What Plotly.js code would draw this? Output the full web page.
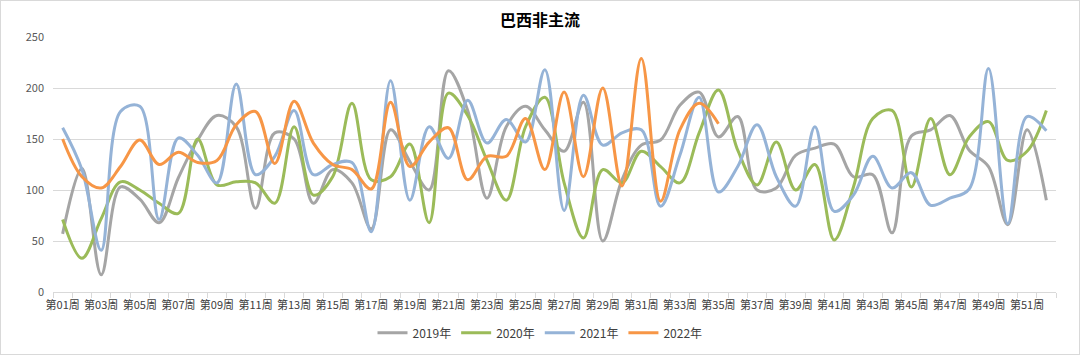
<!DOCTYPE html>
<html>
<head>
<meta charset="utf-8">
<script src="https://cdn.plot.ly/plotly-3.0.1.min.js"></script>
<style>
html,body{margin:0;padding:0;background:#fff;}
#wrap{width:1080px;height:355px;box-sizing:border-box;border:1px solid #d9d9d9;}
#chart{width:1078px;height:353px;}
</style>
</head>
<body>
<div id="wrap"><div id="chart"></div></div>
<script>
const weeks = [];
for (let i = 1; i <= 52; i++) weeks.push('第' + String(i).padStart(2, '0') + '周');
const tickLabels = weeks.map((w, i) => (i % 2 === 0 ? w : ''));

const s2019 = [57,121,17,103,91,68,112,149,173,162,82,156,150,87,120,107,62,159,128,100,217,178,92,162,182,159,138,186,50,110,144,149,183,196,152,172,100,102,134,141,145,113,115,58,153,159,173,139,123,66,159,90];
const s2020 = [71,33,72,108,100,87,77,150,105,108,107,87,162,95,113,185,110,113,145,68,195,173,129,90,162,191,107,53,120,107,138,123,107,156,198,139,105,147,100,125,51,103,170,178,103,170,115,152,167,129,138,178];
const s2021 = [161,120,41,177,182,71,151,134,107,204,115,133,178,115,125,127,59,207,90,162,131,188,146,169,147,218,80,193,144,156,159,84,134,191,98,123,164,113,84,162,79,95,133,102,117,85,92,101,219,67,172,158];
const s2022 = [150,113,102,123,149,125,137,127,129,164,177,126,187,146,125,120,101,186,123,147,161,110,133,133,170,120,196,113,200,104,229,89,159,185,165];

const names = ['2019年','2020年','2021年','2022年'];
const colors = ['#a5a5a5','#9bbb59','#95b3d7','#f79646'];
const series = [s2019, s2020, s2021, s2022];

const traces = series.map((s, k) => ({
  type: 'scatter', mode: 'lines',
  x: weeks.slice(0, s.length), y: s,
  name: names[k],
  line: {color: colors[k], width: 3, shape: 'spline', smoothing: 1},
  hoverinfo: 'x+y+name'
}));

const layout = {
  width: 1078, height: 353,
  margin: {l: 52, r: 23, t: 36, b: 62},
  paper_bgcolor: '#fff', plot_bgcolor: '#fff',
  font: {family: '"Noto Sans CJK SC", "Noto Sans", sans-serif', size: 11, color: '#595959'},
  title: {text: '巴西非主流', x: 0.5, xanchor: 'center', y: 0.945, yanchor: 'middle',
          font: {family: '"Noto Sans CJK SC", sans-serif', size: 16, color: '#000', weight: 'bold'}},
  xaxis: {
    type: 'category', categoryarray: weeks, range: [-0.5, 51.5],
    tickmode: 'array', tickvals: weeks, ticktext: tickLabels,
    tickson: 'boundaries', ticks: 'outside', ticklen: 5, tickcolor: '#d9d9d9', tickwidth: 1,
    showline: true, linecolor: '#d9d9d9', linewidth: 1, showgrid: false, zeroline: false,
    ticklabelstandoff: 3,
    tickangle: 0, tickfont: {size: 11, color: '#404040'}, automargin: false
  },
  yaxis: {
    range: [0, 250], tickvals: [0,50,100,150,200,250], showgrid: true, gridcolor: '#d9d9d9', gridwidth: 1,
    zeroline: false, showline: false, ticks: '', ticklabelstandoff: 8, tickfont: {size: 11, color: '#595959'}, automargin: false
  },
  showlegend: true,
  legend: {orientation: 'h', x: 0.5, xanchor: 'center', xref: 'container', yref: 'container', y: 0.06, yanchor: 'middle',
           font: {size: 12, color: '#404040'}, traceorder: 'normal'}
};

Plotly.newPlot('chart', traces, layout, {displayModeBar: false, staticPlot: true});
</script>
</body>
</html>
